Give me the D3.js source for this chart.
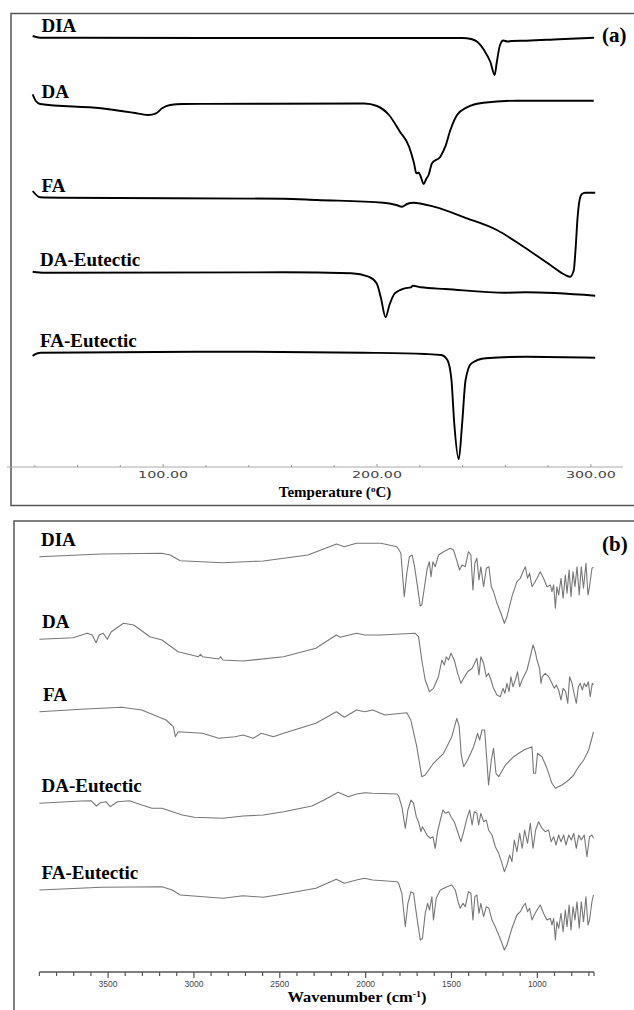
<!DOCTYPE html>
<html>
<head>
<meta charset="utf-8">
<script src="https://cdn.jsdelivr.net/npm/d3@7"></script>
<style>
  body { margin: 0; background: #fff; }
  svg { display: block; }
</style>
</head>
<body>
<svg id="canvas" width="634" height="1010"></svg>
<script>
// ---- panel (a): DSC thermograms, [temperature (C), heat flow (a.u., offset)]
const dscNames = ["DIA", "DA", "FA", "DA-Eutectic", "FA-Eutectic"];
const dscDIA = [[39, 431], [42.5, 429.3], [60, 429.2], [120, 429], [180, 429], [240, 429], [244, 428],
  [247, 425], [250, 417], [253, 405], [255, 392], [256, 405], [257.5, 422], [259, 426.5], [261, 425.5],
  [263, 426], [270, 426.3], [285, 427.8], [301.5, 429.3]];
const dscDA = [[39, 372.7], [40.5, 366], [42.5, 363], [71, 358.7], [86, 354.3], [93, 352], [96.7, 353.7],
  [99.5, 358.7], [103.3, 362], [109, 363], [150, 363.3], [194, 363.5], [200, 361], [205.6, 352],
  [210.7, 335.3], [215, 320.3], [217.3, 303.7], [218.4, 293.7], [219.5, 294.3], [220.5, 290],
  [221.8, 283], [223, 288], [224.1, 292], [225.7, 303.7], [229.6, 310.3], [231.9, 320.3], [234.3, 337],
  [237.4, 352], [242, 359.7], [249.8, 364.3], [265.4, 366.3], [301.3, 366.3]];
const dscFA = [[39, 276], [42.5, 269.7], [52, 269.3], [156, 268.3], [172, 267], [203, 264.3], [209, 262],
  [211.7, 260.3], [214, 263], [217, 264.3], [226.5, 260.3], [242, 248.7], [256, 237], [268.5, 220.3],
  [281, 202], [288, 192], [290.3, 190.3], [292, 197], [292.7, 214], [293.8, 250.3], [294.7, 267],
  [295.8, 273], [297.3, 274.3], [302, 274.3]];
const dscDAEu = [[39, 195.3], [44.6, 194.3], [156, 194.7], [188, 193.7], [196, 190.3], [199.8, 183.7],
  [201.7, 170.3], [204, 149.7], [205.8, 162], [208.3, 173.7], [213, 178.7], [215.8, 179.7],
  [216.8, 181.3], [220.6, 179.7], [232, 178], [260.3, 174.3], [269.6, 174.7], [302, 171.3]];
const dscFAEu = [[39, 111], [40, 112.7], [42.7, 114.3], [137, 115.3], [194, 114.3], [222.4, 113],
  [230, 112], [232.9, 107], [234.8, 87], [236.1, 43.7], [238.2, 7.7], [239.8, 43.7], [241.4, 87],
  [244.2, 103.7], [250.8, 108.7], [269.7, 110.3], [302, 109.3]];
const dscTicks = d3.range(40, 301, 20);
const dscLabelTicks = [100, 200, 300];

// ---- panel (b): FTIR spectra, [wavenumber (cm-1), transmittance (a.u., offset)]
const irNames = ["DIA", "DA", "FA", "DA-Eutectic", "FA-Eutectic"];
const irDIA = [[3900, 415.3], [3540, 418], [3186, 418.7], [3138, 417], [3080, 411.3], [2831, 409.3],
  [2596, 411], [2336, 417], [2170, 428], [2125, 425.3], [2054, 428.7], [1911, 428.7], [1818, 425.3],
  [1795, 419], [1775, 375.3], [1760, 399], [1745, 415.3], [1729, 417], [1715, 405.3], [1698, 385.3],
  [1682, 366], [1673, 367], [1657, 385.3], [1643, 402], [1629, 410.3], [1619, 395.3], [1608, 410.3],
  [1595, 405.3], [1575, 417], [1546, 420.3], [1507, 423.7], [1488, 422], [1464, 408.7], [1453, 402],
  [1439, 407], [1420, 405.3], [1401, 420.3], [1387, 417], [1375, 382], [1364, 408.7], [1352, 413.7],
  [1340, 392], [1329, 405.3], [1313, 385.3], [1297, 403.7], [1282, 405.3], [1268, 385.3], [1255, 380.3],
  [1235, 368.7], [1212, 358.7], [1192, 348.7], [1177, 355.3], [1148, 375.3], [1119, 390.3], [1099, 393.7],
  [1084, 400.3], [1070, 405.3], [1057, 393.7], [1045, 398.7], [1031, 385.3], [1018, 388.7], [1002, 393.7],
  [983, 400.3], [964, 393.7], [944, 385.3], [924, 387], [915, 380.3], [905, 387], [895, 363.7],
  [886, 385.3], [876, 377], [862, 393.7], [850, 373.7], [837, 397], [827, 378.7], [815, 402],
  [804, 375.3], [792, 400.3], [781, 385.3], [769, 405.3], [756, 377], [744, 405.3], [731, 383.7],
  [717, 408.7], [705, 377], [696, 385.3], [682, 403.7], [673, 404.7]];
const irDA = [[3900, 332.7], [3705, 334.3], [3622, 338.7], [3592, 337], [3570, 329.3], [3552, 337],
  [3528, 338.7], [3505, 332.7], [3481, 340.3], [3410, 348.7], [3351, 347], [3304, 341.3], [3257, 335.3],
  [3186, 332], [3092, 320.3], [2974, 315.3], [2962, 317.7], [2950, 315.3], [2856, 313], [2844, 315.3],
  [2831, 312], [2714, 311], [2478, 315.3], [2290, 323.7], [2171, 337], [2148, 334.7], [2053, 338.7],
  [2006, 337], [1912, 337], [1711, 338.7], [1692, 335.3], [1673, 312], [1653, 292], [1628, 280.3],
  [1605, 283.7], [1576, 295.3], [1556, 312], [1542, 307], [1530, 315.3], [1517, 312], [1503, 318.7],
  [1484, 312], [1464, 298.7], [1445, 288.7], [1429, 293.7], [1406, 300.3], [1380, 303.7], [1365, 308.7],
  [1352, 313.7], [1340, 297], [1329, 315.3], [1313, 308.7], [1297, 295.3], [1284, 298.7], [1270, 292],
  [1255, 283.7], [1235, 277], [1216, 275.3], [1200, 283.7], [1189, 278.7], [1177, 288.7], [1165, 280.3],
  [1154, 295.3], [1142, 285.3], [1128, 292], [1115, 300.3], [1103, 285.3], [1089, 292], [1060, 302],
  [1041, 315.3], [1025, 327], [1012, 320.3], [1002, 312], [987, 303.7], [979, 288.7], [971, 295.3],
  [954, 298.7], [934, 295.3], [915, 288.7], [901, 283.7], [890, 287], [876, 282], [862, 272],
  [850, 283.7], [835, 280.3], [823, 268.7], [812, 295.3], [798, 288.7], [784, 277], [773, 268.7],
  [761, 285.3], [750, 288.7], [738, 282], [727, 288.7], [715, 285.3], [703, 290.3], [692, 275.3],
  [680, 288.7], [673, 287]];
const irFA = [[3900, 260.3], [3657, 262.7], [3422, 264.7], [3304, 262], [3162, 252], [3120, 245.3],
  [3108, 235.3], [3092, 240.3], [2950, 238.7], [2856, 233.7], [2761, 235.3], [2714, 237], [2655, 233.7],
  [2608, 238.7], [2572, 237], [2537, 235.3], [2478, 238.7], [2290, 248.7], [2171, 260.3], [2124, 254.7],
  [2053, 262], [2006, 260.3], [1959, 262], [1888, 257], [1760, 259.3], [1737, 252], [1702, 225.3],
  [1673, 195.3], [1653, 197], [1605, 208.7], [1546, 218.7], [1498, 235.3], [1469, 253.7], [1455, 245.3],
  [1443, 217], [1429, 205.3], [1406, 212], [1371, 225.3], [1348, 238.7], [1336, 232], [1322, 242],
  [1307, 242], [1297, 218.7], [1284, 187], [1268, 212], [1255, 223.7], [1241, 198.7], [1225, 195.3],
  [1186, 207], [1138, 215.3], [1079, 222], [1031, 225.3], [1022, 198.7], [1010, 198.7], [999, 218.7],
  [973, 215.3], [944, 203.7], [915, 188.7], [895, 183.7], [856, 187], [817, 192], [788, 197],
  [778, 200.3], [759, 205.3], [730, 212], [701, 222], [673, 240]];
const irDAEu = [[3900, 168.7], [3657, 171], [3599, 171.3], [3568, 166], [3545, 169.3], [3512, 170.3],
  [3488, 165.3], [3445, 170.3], [3375, 171.3], [3304, 167], [3245, 163.7], [3186, 163.7], [3068, 157],
  [2998, 154.7], [2831, 153.7], [2714, 156], [2596, 157], [2478, 160.3], [2313, 166], [2242, 172],
  [2160, 179.7], [2101, 175.3], [2053, 178], [2006, 179.3], [1959, 178.7], [1817, 178], [1808, 176],
  [1789, 165.3], [1769, 143.7], [1754, 162], [1736, 172], [1721, 168.7], [1705, 155.3], [1692, 150.3],
  [1678, 140.3], [1669, 145.3], [1643, 137], [1624, 133.7], [1608, 135.3], [1595, 123.7], [1581, 140.3],
  [1565, 152], [1550, 162], [1536, 158.7], [1517, 160.3], [1503, 155.3], [1484, 150.3], [1464, 140.3],
  [1445, 130.3], [1429, 140.3], [1410, 153.7], [1394, 162], [1380, 147], [1367, 160.3], [1352, 158.7],
  [1342, 147], [1329, 158.7], [1313, 150.3], [1297, 152], [1284, 142], [1264, 137], [1245, 125.3],
  [1225, 118.7], [1206, 108.7], [1192, 100.3], [1177, 107], [1161, 117], [1148, 110.3], [1134, 132],
  [1119, 120.3], [1103, 138.7], [1088, 123.7], [1074, 142], [1057, 128.7], [1041, 148.7], [1025, 123.7],
  [1010, 142], [993, 150.3], [973, 143.7], [954, 140.3], [934, 142], [920, 130.3], [905, 135.3],
  [891, 127], [876, 137], [862, 130.3], [847, 137], [833, 127], [817, 137], [802, 132], [788, 138.7],
  [773, 123.7], [759, 137], [744, 132], [727, 137], [711, 115.3], [696, 135.3], [682, 137], [673, 133.7]];
const irFAEu = [[3900, 82], [3540, 84.7], [3186, 85.3], [3127, 82], [3079, 77], [2831, 73.7],
  [2714, 76.3], [2596, 74.7], [2478, 78], [2290, 83.7], [2171, 92.7], [2124, 88.7], [2053, 92],
  [2006, 93.7], [1959, 92], [1817, 90.3], [1808, 88.7], [1789, 78.7], [1769, 45.3], [1754, 68.7],
  [1736, 80.3], [1721, 78.7], [1702, 55.3], [1682, 32], [1669, 33.7], [1653, 58.7], [1639, 68.7],
  [1628, 62], [1614, 75.3], [1605, 52], [1589, 73.7], [1565, 82], [1526, 85.3], [1498, 87], [1478, 82],
  [1459, 68.7], [1449, 63.7], [1433, 68.7], [1420, 65.3], [1401, 80.3], [1387, 78.7], [1375, 52],
  [1364, 75.3], [1352, 77], [1340, 58.7], [1329, 68.7], [1313, 55.3], [1297, 65.3], [1282, 63.7],
  [1264, 52], [1245, 45.3], [1225, 37], [1206, 28.7], [1192, 22], [1177, 27], [1148, 43.7], [1119, 57],
  [1099, 60.3], [1084, 65.3], [1070, 68.7], [1057, 60.3], [1045, 63.7], [1031, 52], [1018, 57],
  [1002, 62], [983, 67], [964, 58.7], [944, 52], [924, 53.7], [915, 47], [905, 53.7], [895, 32],
  [886, 50.3], [876, 43.7], [862, 58.7], [850, 40.3], [837, 62], [827, 45.3], [815, 67], [804, 42],
  [792, 65.3], [781, 52], [769, 70.3], [756, 43.7], [744, 70.3], [731, 50.3], [717, 75.3], [705, 47],
  [696, 52], [682, 70.3], [673, 77]];
const irTicks = d3.range(3900, 699, -100);
const irLabelTicks = [3500, 3000, 2500, 2000, 1500, 1000];

const serif = "'Liberation Serif', 'Times New Roman', Times, serif";
const svg = d3.select("#canvas");
svg.append("rect").attr("width", 634).attr("height", 1010).attr("fill", "#fff");

function boldText(sel) {
  return sel.attr("font-family", serif).attr("font-weight", "bold").attr("fill", "#000");
}

// ================= panel (a) =================
const xA = d3.scaleLinear().domain([27, 315]).range([7, 623]);
const yA = d3.scaleLinear().domain([0, 454]).range([467, 13]);
const dscSeries = [dscDIA, dscDA, dscFA, dscDAEu, dscFAEu];

// frame
svg.append("path")
  .attr("d", "M640,13.5 H11 V505.5 H640")
  .attr("fill", "none").attr("stroke", "#555").attr("stroke-width", 1.5);

// axis
const axA = svg.append("g").attr("transform", "translate(0,467)");
axA.append("line").attr("x1", 7).attr("x2", 623).attr("stroke", "#aaa").attr("stroke-width", 1);
axA.selectAll("line.tk").data(dscTicks).enter().append("line")
  .attr("class", "tk")
  .attr("x1", (d) => xA(d)).attr("x2", (d) => xA(d))
  .attr("y1", 0).attr("y2", (d) => (dscLabelTicks.includes(d) ? -3 : -2))
  .attr("stroke", "#999");
axA.selectAll("text").data(dscLabelTicks).enter().append("text")
  .attr("x", (d) => xA(d)).attr("y", 10.5)
  .attr("text-anchor", "middle")
  .attr("font-family", "'DejaVu Sans', sans-serif").attr("font-size", 8.5)
  .attr("textLength", 50).attr("lengthAdjust", "spacingAndGlyphs")
  .attr("fill", "#444")
  .text((d) => d.toFixed(2));

const tA = boldText(svg.append("text")).attr("x", 335).attr("y", 497)
  .attr("text-anchor", "middle").attr("font-size", 15);
tA.append("tspan").text("Temperature (");
tA.append("tspan").attr("font-size", 9).attr("dy", -5).text("o");
tA.append("tspan").attr("dy", 5).text("C)");

const lineA = d3.line().x((d) => xA(d[0])).y((d) => yA(d[1])).curve(d3.curveMonotoneX);
svg.selectAll("path.dsc").data(dscSeries).enter().append("path")
  .attr("class", "dsc")
  .attr("d", lineA)
  .attr("fill", "none").attr("stroke", "#000").attr("stroke-width", 1.9)
  .attr("stroke-linejoin", "round");

boldText(svg.selectAll("text.dscname").data(dscNames).enter().append("text"))
  .attr("class", "dscname")
  .attr("x", (d) => (d.length > 3 ? 40 : 41.5))
  .attr("y", (d, i) => yA(dscSeries[i][2][1]) - 6)
  .attr("font-size", 19)
  .text((d) => d);

boldText(svg.append("text")).attr("x", 602).attr("y", 42)
  .attr("font-size", 21).text("(a)");

// ================= panel (b) =================
const xB = d3.scaleLinear().domain([3900, 670]).range([39.4, 594]);
const yB = d3.scaleLinear().domain([0, 451]).range([972, 521]);
const irSeries = [irDIA, irDA, irFA, irDAEu, irFAEu];

svg.append("path")
  .attr("d", "M640,521 H14 V1015")
  .attr("fill", "none").attr("stroke", "#555").attr("stroke-width", 1.5);

const axB = svg.append("g").attr("transform", "translate(0,972)");
axB.append("line").attr("x1", xB(3900)).attr("x2", xB(670)).attr("stroke", "#555").attr("stroke-width", 1.4);
axB.selectAll("line.tk").data(irTicks.concat([670])).enter().append("line")
  .attr("class", "tk")
  .attr("x1", (d) => xB(d)).attr("x2", (d) => xB(d))
  .attr("y1", 0).attr("y2", (d) => (irLabelTicks.includes(d) ? 6 : 4))
  .attr("stroke", "#555").attr("stroke-width", 1.2);
axB.selectAll("text").data(irLabelTicks).enter().append("text")
  .attr("x", (d) => xB(d)).attr("y", 15)
  .attr("text-anchor", "middle")
  .attr("font-family", "'Liberation Sans', Arial, sans-serif").attr("font-size", 8.5)
  .attr("fill", "#444")
  .text((d) => d);

const tB = boldText(svg.append("text")).attr("x", 357).attr("y", 1002)
  .attr("text-anchor", "middle").attr("font-size", 14)
  .attr("textLength", 139).attr("lengthAdjust", "spacingAndGlyphs");
tB.append("tspan").text("Wavenumber (cm");
tB.append("tspan").attr("font-size", 8.5).attr("dy", -5).text("-1");
tB.append("tspan").attr("dy", 5).text(")");

const lineB = d3.line().x((d) => xB(d[0])).y((d) => yB(d[1]));
svg.selectAll("path.ir").data(irSeries).enter().append("path")
  .attr("class", "ir")
  .attr("d", lineB)
  .attr("fill", "none").attr("stroke", "#777").attr("stroke-width", 1.1)
  .attr("stroke-linejoin", "round");

boldText(svg.selectAll("text.irname").data(irNames).enter().append("text"))
  .attr("class", "irname")
  .attr("x", (d, i) => (d.length > 3 ? 41.5 : 41 + i))
  .attr("y", (d, i) => yB(irSeries[i][0][1]) - 11)
  .attr("font-size", 19)
  .text((d) => d);

boldText(svg.append("text")).attr("x", 602).attr("y", 551)
  .attr("font-size", 21).text("(b)");
</script>
</body>
</html>
